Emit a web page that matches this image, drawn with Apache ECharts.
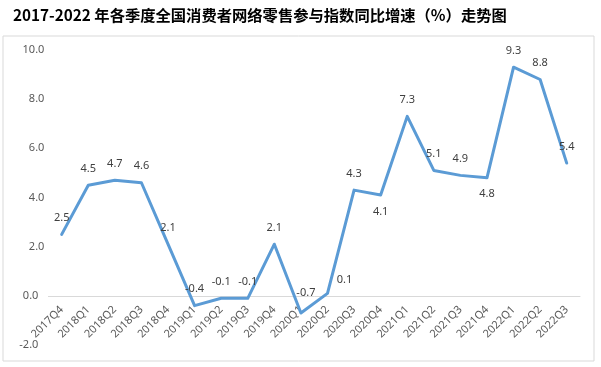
<!DOCTYPE html>
<html>
<head>
<meta charset="utf-8">
<script src="https://cdn.jsdelivr.net/npm/echarts@6/dist/echarts.min.js"></script>
<style>
html,body{margin:0;padding:0;background:#fff;}
#main{width:601px;height:367px;}
</style>
</head>
<body>
<div id="main"></div>
<script>
const titleText = '2017-2022 年各季度全国消费者网络零售参与指数同比增速（%）走势图';
const categories = ['2017Q4','2018Q1','2018Q2','2018Q3','2018Q4','2019Q1','2019Q2','2019Q3','2019Q4','2020Q1','2020Q2','2020Q3','2020Q4','2021Q1','2021Q2','2021Q3','2021Q4','2022Q1','2022Q2','2022Q3'];
const values = [2.5, 4.5, 4.7, 4.6, 2.1, -0.4, -0.1, -0.1, 2.1, -0.7, 0.1, 4.3, 4.1, 7.3, 5.1, 4.9, 4.8, 9.3, 8.8, 5.4];
const yTicks = [-2, 0, 2, 4, 6, 8, 10];

// label placement tweaks (layout only)
const labelTweaks = {
  9: {position: 'top', offset: [5, -4]},
  10: {position: 'top', offset: [17, 3]},
  12: {position: 'bottom'},
  16: {position: 'bottom'}
};

const data = values.map((v, i) => {
  const d = {value: v};
  if (labelTweaks[i]) d.label = labelTweaks[i];
  return d;
});

const gridTop = 50, gridBottom = 22, H = 367;
const plotH = H - gridTop - gridBottom;
const yMin = yTicks[0], yMax = yTicks[yTicks.length - 1];
// shift x axis up so it sits on the zero line
const zeroShift = plotH * (0 - yMin) / (yMax - yMin);

const chart = echarts.init(document.getElementById('main'), null, {renderer: 'canvas'});
chart.setOption({
  animation: false,
  backgroundColor: '#fff',
  title: {
    text: titleText,
    left: 8,
    top: 3,
    textStyle: {fontFamily: '"Noto Sans CJK SC", sans-serif', fontSize: 15.3, fontWeight: 'bold', color: '#000'}
  },
  graphic: [{
    type: 'rect',
    shape: {x: 3, y: 36, width: 591, height: 325},
    style: {fill: 'none', stroke: '#d9d9d9', lineWidth: 1},
    silent: true,
    z: -1
  }],
  grid: {left: 48.4, right: 21, top: gridTop, bottom: gridBottom, containLabel: false, outerBoundsMode: 'none'},
  xAxis: {
    type: 'category',
    data: categories,
    boundaryGap: true,
    offset: -zeroShift,
    axisLine: {show: true, onZero: false, lineStyle: {color: '#d9d9d9', width: 1}},
    axisTick: {show: false},
    axisLabel: {
      interval: 0,
      rotate: 45,
      margin: 12,
      color: '#595959',
      fontSize: 11,
      fontFamily: '"Noto Sans", sans-serif'
    },
    splitLine: {show: false}
  },
  yAxis: {
    type: 'value',
    min: yMin,
    max: yMax,
    interval: 2,
    axisLine: {show: false},
    axisTick: {show: false},
    splitLine: {show: false},
    axisLabel: {
      margin: 4,
      color: '#595959',
      fontSize: 11,
      fontFamily: '"Noto Sans", sans-serif',
      formatter: function (v) {
        const s = v.toFixed(1);
        return v <= 0 ? '{n|' + s + '}' : s;
      },
      rich: {n: {padding: [0, 6, 0, 0], color: '#595959', fontSize: 11, fontFamily: '"Noto Sans", sans-serif'}}
    }
  },
  series: [{
    type: 'line',
    data: data,
    smooth: false,
    symbol: 'circle',
    symbolSize: 0,
    showSymbol: true,
    lineStyle: {color: '#5B9BD5', width: 3, join: 'round', cap: 'round'},
    itemStyle: {color: '#5B9BD5'},
    label: {
      show: true,
      position: 'top',
      distance: 11,
      color: '#404040',
      fontSize: 11,
      fontFamily: '"Noto Sans", sans-serif',
      formatter: function (p) { return p.value.toFixed(1); }
    }
  }]
});
</script>
</body>
</html>
